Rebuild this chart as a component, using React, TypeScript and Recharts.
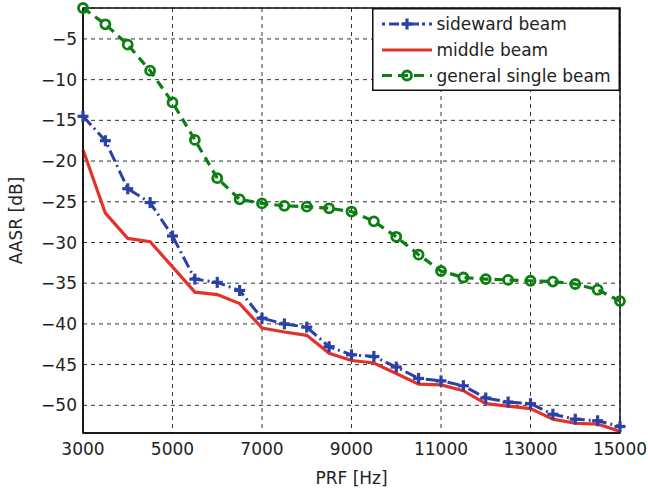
import { LineChart, Line, XAxis, YAxis, CartesianGrid, ReferenceArea, Legend, Label } from 'recharts'

const prf = [3000, 3500, 4000, 4500, 5000, 5500, 6000, 6500, 7000, 7500, 8000, 8500, 9000, 9500, 10000, 10500, 11000, 11500, 12000, 12500, 13000, 13500, 14000, 14500, 15000]
const sideward = [-14.5, -17.5, -23.4, -25.1, -29.2, -34.5, -34.9, -35.9, -39.3, -40.0, -40.4, -42.8, -43.8, -44.0, -45.3, -46.7, -47.0, -47.6, -49.1, -49.6, -49.8, -51.1, -51.7, -51.9, -52.6]
const middle = [-18.6, -26.4, -29.5, -29.9, -33.0, -36.1, -36.4, -37.5, -40.5, -41.0, -41.4, -43.6, -44.5, -44.8, -46.1, -47.4, -47.5, -48.2, -49.8, -50.1, -50.4, -51.7, -52.2, -52.3, -53.2]
const general = [-1.2, -3.2, -5.7, -8.9, -12.8, -17.4, -22.1, -24.7, -25.2, -25.5, -25.6, -25.8, -26.2, -27.4, -29.3, -31.5, -33.5, -34.3, -34.5, -34.6, -34.7, -34.8, -35.1, -35.8, -37.2]
const xTicks = [3000, 5000, 7000, 9000, 11000, 13000, 15000]
const yTicks = [-50, -45, -40, -35, -30, -25, -20, -15, -10, -5]

const BLUE = '#2c40a6'
const RED = '#e2332a'
const GREEN = '#0b7f12'
const FONT = 17

const data = prf.map((f, i) => ({ prf: f, sideward: sideward[i], middle: middle[i], general: general[i] }))

function Plus({ cx, cy, color }: { cx: number; cy: number; color: string }) {
  return (
    <g stroke={color} strokeWidth={3.2}>
      <line x1={cx - 5.5} y1={cy} x2={cx + 5.5} y2={cy} />
      <line x1={cx} y1={cy - 5.5} x2={cx} y2={cy + 5.5} />
    </g>
  )
}

function LegendBox() {
  const rows = [
    { label: 'sideward beam', color: BLUE, dash: '3 4 10 3', marker: 'plus', y: 16 },
    { label: 'middle beam', color: RED, dash: undefined, marker: 'none', y: 42 },
    { label: 'general single beam', color: GREEN, dash: '10 6', marker: 'circle', y: 67.5 },
  ]
  return (
    <svg width={248} height={83} style={{ display: 'block' }}>
      <rect x={0.75} y={0.75} width={246.5} height={81.5} fill="#fff" stroke="#111" strokeWidth={1.5} />
      {rows.map((r) => (
        <g key={r.label}>
          <line x1={10} y1={r.y} x2={60} y2={r.y} stroke={r.color} strokeWidth={3} strokeDasharray={r.dash} />
          {r.marker === 'plus' && <Plus cx={35} cy={r.y} color={r.color} />}
          {r.marker === 'circle' && <circle cx={35} cy={r.y} r={4.5} fill="none" stroke={r.color} strokeWidth={2.8} />}
          <text x={64.5} y={r.y} dy="0.355em" fontSize={FONT} fill="#222">{r.label}</text>
        </g>
      ))}
    </svg>
  )
}

const fmtY = (v: number) => String(v).replace('-', '\u2212')

export default function App() {
  return (
    <div style={{ position: 'absolute', left: 0, top: 0, width: 648, height: 494, background: '#fff', fontFamily: '"DejaVu Sans", sans-serif' }}>
      <LineChart width={648} height={494} data={data} margin={{ top: 8, right: 28, left: 0, bottom: 0 }}>
        <CartesianGrid stroke="#333" strokeDasharray="4 4" strokeWidth={1} />
        <XAxis
          type="number"
          dataKey="prf"
          domain={[3000, 15000]}
          ticks={xTicks}
          height={61}
          tickLine={false}
          tickSize={0}
          tickMargin={10}
          axisLine={{ stroke: '#111', strokeWidth: 1.5 }}
          tick={{ fill: '#222', fontSize: FONT }}
        >
          <Label value="PRF [Hz]" position="insideBottom" offset={10} fill="#222" fontSize={FONT} />
        </XAxis>
        <YAxis
          type="number"
          domain={[-53.4, -1.2]}
          ticks={yTicks}
          width={83}
          tickLine={false}
          tickSize={0}
          tickMargin={6}
          axisLine={{ stroke: '#111', strokeWidth: 1.5 }}
          tick={{ fill: '#222', fontSize: FONT }}
          tickFormatter={fmtY}
        >
          <Label value="AASR [dB]" angle={-90} position="insideLeft" offset={16} fill="#222" fontSize={FONT} style={{ textAnchor: 'middle' }} />
        </YAxis>
        <ReferenceArea x1={3000} x2={15000} y1={-53.4} y2={-1.2} fill="none" stroke="#111" strokeWidth={1.5} />
        <Line
          dataKey="sideward"
          stroke={BLUE}
          strokeWidth={3}
          strokeDasharray="12 4 2 4"
          isAnimationActive={false}
          dot={(p: any) => <Plus key={`s${p.index}`} cx={p.cx} cy={p.cy} color={BLUE} />}
        />
        <Line dataKey="middle" stroke={RED} strokeWidth={3.2} dot={false} isAnimationActive={false} />
        <Line
          dataKey="general"
          stroke={GREEN}
          strokeWidth={3.2}
          strokeDasharray="9 6"
          isAnimationActive={false}
          dot={(p: any) => <circle key={`g${p.index}`} cx={p.cx} cy={p.cy} r={4.5} fill="none" stroke={GREEN} strokeWidth={2.8} />}
        />
        <Legend
          layout="horizontal"
          verticalAlign="middle"
          align="center"
          content={() => <LegendBox />}
          wrapperStyle={{ position: 'absolute', left: 372, top: 8, width: 248, height: 83 }}
        />
      </LineChart>
    </div>
  )
}
